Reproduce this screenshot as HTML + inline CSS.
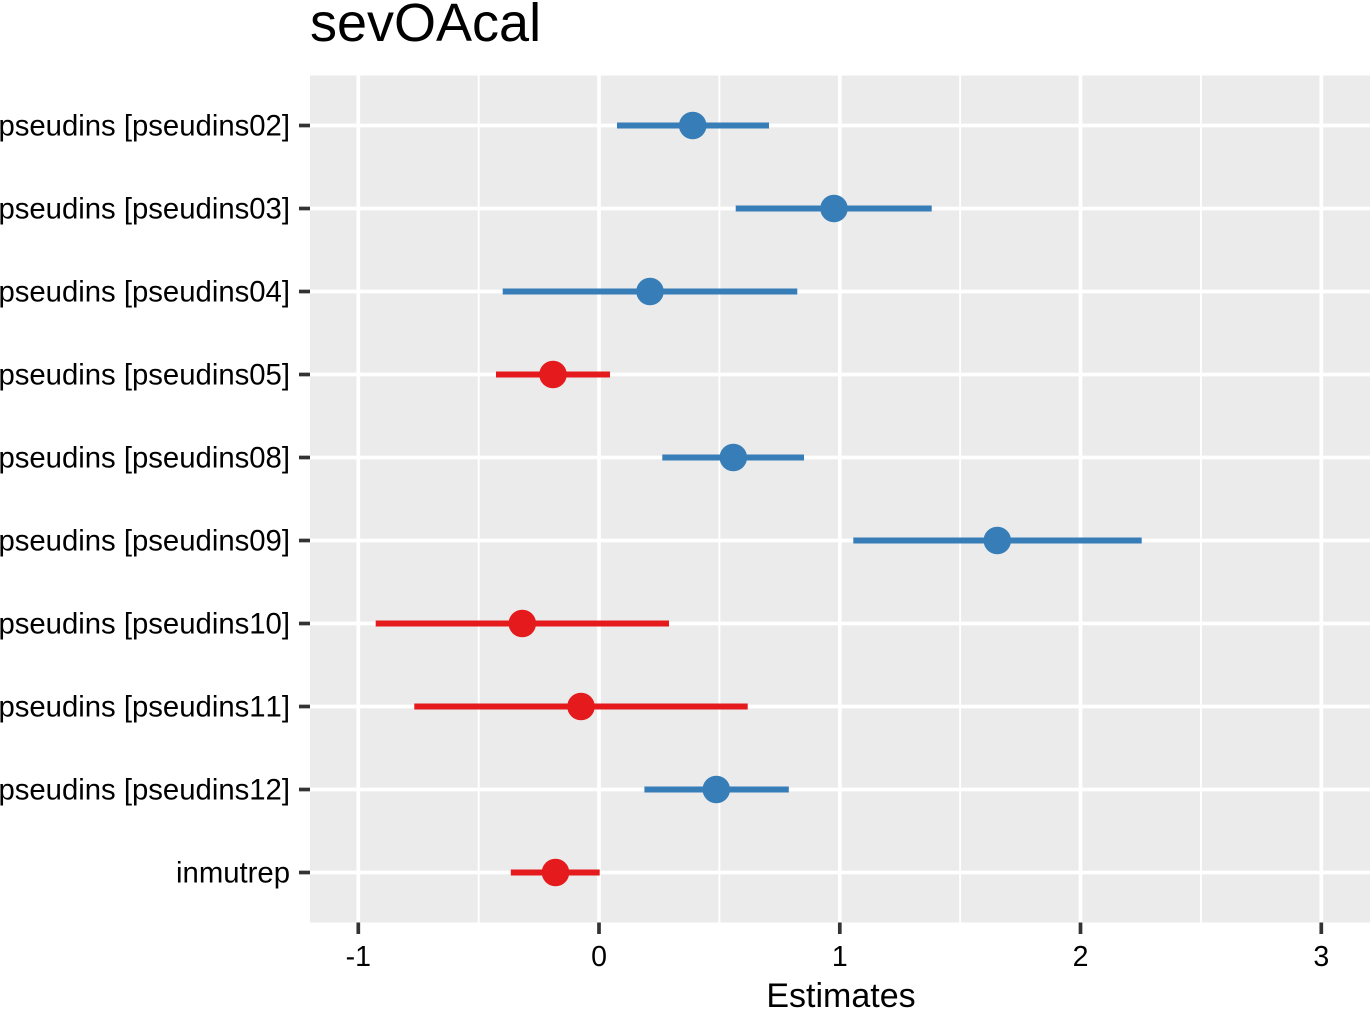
<!DOCTYPE html>
<html>
<head>
<meta charset="utf-8">
<style>
html,body{margin:0;padding:0;background:#fff;}
svg{display:block;}
text{font-family:"Liberation Sans",Arial,sans-serif;fill:#000;font-kerning:none;}
</style>
</head>
<body>
<svg width="1370" height="1009" viewBox="0 0 1370 1009" xmlns="http://www.w3.org/2000/svg">
<rect x="0" y="0" width="1370" height="1009" fill="#fff"/>
<!-- title -->
<text x="310" y="41" font-size="54">sevOAcal</text>
<!-- panel -->
<rect x="310" y="75.5" width="1060" height="847" fill="#EBEBEB"/>
<!-- minor vertical gridlines -->
<g stroke="#fff" stroke-width="1.9">
<line x1="478.7" y1="75.5" x2="478.7" y2="922.5"/>
<line x1="719.4" y1="75.5" x2="719.4" y2="922.5"/>
<line x1="960.1" y1="75.5" x2="960.1" y2="922.5"/>
<line x1="1200.9" y1="75.5" x2="1200.9" y2="922.5"/>
</g>
<!-- major gridlines -->
<g stroke="#fff" stroke-width="3.7">
<line x1="358.3" y1="75.5" x2="358.3" y2="922.5"/>
<line x1="599" y1="75.5" x2="599" y2="922.5"/>
<line x1="839.8" y1="75.5" x2="839.8" y2="922.5"/>
<line x1="1080.5" y1="75.5" x2="1080.5" y2="922.5"/>
<line x1="1321.3" y1="75.5" x2="1321.3" y2="922.5"/>
<line x1="310" y1="125.5" x2="1370" y2="125.5"/>
<line x1="310" y1="208.5" x2="1370" y2="208.5"/>
<line x1="310" y1="291.5" x2="1370" y2="291.5"/>
<line x1="310" y1="374.5" x2="1370" y2="374.5"/>
<line x1="310" y1="457.5" x2="1370" y2="457.5"/>
<line x1="310" y1="540.5" x2="1370" y2="540.5"/>
<line x1="310" y1="623.5" x2="1370" y2="623.5"/>
<line x1="310" y1="706.5" x2="1370" y2="706.5"/>
<line x1="310" y1="789.5" x2="1370" y2="789.5"/>
<line x1="310" y1="872.5" x2="1370" y2="872.5"/>
</g>
<!-- error bars -->
<g stroke-width="6" stroke-linecap="butt">
<line x1="617" y1="125.5" x2="769" y2="125.5" stroke="#377EB8"/>
<line x1="735.7" y1="208.5" x2="931.7" y2="208.5" stroke="#377EB8"/>
<line x1="502.7" y1="291.5" x2="797.3" y2="291.5" stroke="#377EB8"/>
<line x1="496" y1="374.5" x2="610" y2="374.5" stroke="#E41A1C"/>
<line x1="662.3" y1="457.5" x2="804" y2="457.5" stroke="#377EB8"/>
<line x1="853.3" y1="540.5" x2="1141.7" y2="540.5" stroke="#377EB8"/>
<line x1="375.7" y1="623.5" x2="669" y2="623.5" stroke="#E41A1C"/>
<line x1="414.3" y1="706.5" x2="747.7" y2="706.5" stroke="#E41A1C"/>
<line x1="644.4" y1="789.5" x2="788.8" y2="789.5" stroke="#377EB8"/>
<line x1="510.8" y1="872.5" x2="599.7" y2="872.5" stroke="#E41A1C"/>
</g>
<!-- points -->
<g>
<circle cx="692.7" cy="125.5" r="13.8" fill="#377EB8"/>
<circle cx="834" cy="208.5" r="13.8" fill="#377EB8"/>
<circle cx="650" cy="291.5" r="13.8" fill="#377EB8"/>
<circle cx="553" cy="374.5" r="13.8" fill="#E41A1C"/>
<circle cx="733.3" cy="457.5" r="13.8" fill="#377EB8"/>
<circle cx="997.3" cy="540.5" r="13.8" fill="#377EB8"/>
<circle cx="522.3" cy="623.5" r="13.8" fill="#E41A1C"/>
<circle cx="581" cy="706.5" r="13.8" fill="#E41A1C"/>
<circle cx="716.3" cy="789.5" r="13.8" fill="#377EB8"/>
<circle cx="555.5" cy="872.5" r="13.8" fill="#E41A1C"/>
</g>
<!-- y ticks -->
<g stroke="#333" stroke-width="3.7">
<line x1="299" y1="125.5" x2="310" y2="125.5"/>
<line x1="299" y1="208.5" x2="310" y2="208.5"/>
<line x1="299" y1="291.5" x2="310" y2="291.5"/>
<line x1="299" y1="374.5" x2="310" y2="374.5"/>
<line x1="299" y1="457.5" x2="310" y2="457.5"/>
<line x1="299" y1="540.5" x2="310" y2="540.5"/>
<line x1="299" y1="623.5" x2="310" y2="623.5"/>
<line x1="299" y1="706.5" x2="310" y2="706.5"/>
<line x1="299" y1="789.5" x2="310" y2="789.5"/>
<line x1="299" y1="872.5" x2="310" y2="872.5"/>
<!-- x ticks -->
<line x1="358.3" y1="922.5" x2="358.3" y2="934"/>
<line x1="599" y1="922.5" x2="599" y2="934"/>
<line x1="839.8" y1="922.5" x2="839.8" y2="934"/>
<line x1="1080.5" y1="922.5" x2="1080.5" y2="934"/>
<line x1="1321.3" y1="922.5" x2="1321.3" y2="934"/>
</g>
<!-- y labels -->
<g font-size="29.3" text-anchor="end">
<text x="290" y="135.5">pseudins [pseudins02]</text>
<text x="290" y="218.5">pseudins [pseudins03]</text>
<text x="290" y="301.5">pseudins [pseudins04]</text>
<text x="290" y="384.5">pseudins [pseudins05]</text>
<text x="290" y="467.5">pseudins [pseudins08]</text>
<text x="290" y="550.5">pseudins [pseudins09]</text>
<text x="290" y="633.5">pseudins [pseudins10]</text>
<text x="290" y="716.5">pseudins [pseudins11]</text>
<text x="290" y="799.5">pseudins [pseudins12]</text>
<text x="290" y="882.5">inmutrep</text>
</g>
<!-- x labels -->
<g font-size="28.5" text-anchor="middle">
<text x="358.3" y="966">-1</text>
<text x="599" y="966">0</text>
<text x="839.8" y="966">1</text>
<text x="1080.5" y="966">2</text>
<text x="1321.3" y="966">3</text>
</g>
<text x="841" y="1007" font-size="34" text-anchor="middle">Estimates</text>
</svg>
</body>
</html>
